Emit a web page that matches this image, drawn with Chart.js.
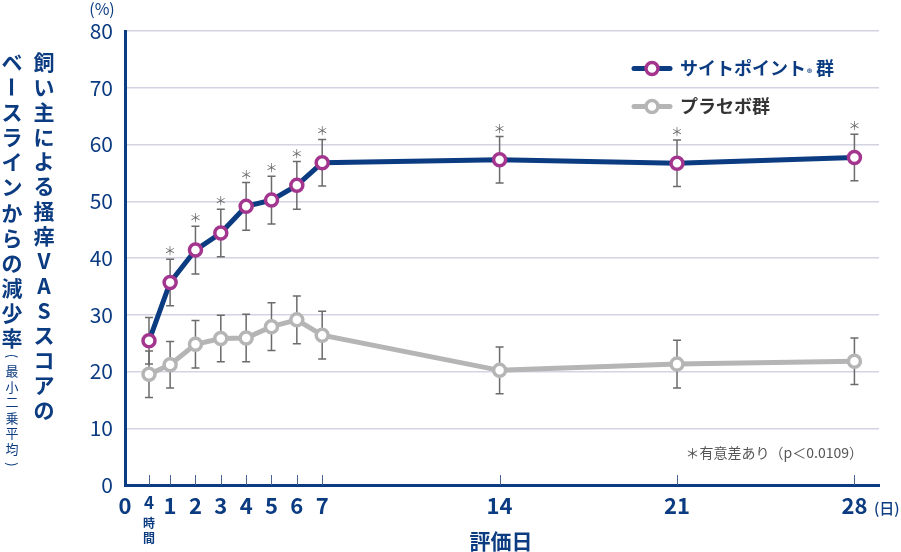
<!doctype html>
<html>
<head>
<meta charset="utf-8">
<title>掻痒VASスコア</title>
<script src="https://cdn.jsdelivr.net/npm/chart.js"></script>
<style>
  body { margin: 0; background: #fff; }
</style>
</head>
<body>
<canvas id="myChart" width="901" height="552"></canvas>

<script>
// evaluation day (4 hours = 4/24 day)
var days = [4 / 24, 1, 2, 3, 4, 5, 6, 7, 14, 21, 28];
var sitepoint = [25.4, 35.7, 41.4, 44.4, 49.1, 50.2, 52.8, 56.8, 57.3, 56.7, 57.7];
var sitepointErr = [4.1, 4.1, 4.2, 4.2, 4.2, 4.2, 4.2, 4.1, 4.1, 4.1, 4.1];
var placebo = [19.5, 21.2, 24.8, 25.8, 25.9, 27.9, 29.1, 26.4, 20.2, 21.3, 21.8];
var placeboErr = [4.1, 4.1, 4.2, 4.1, 4.2, 4.2, 4.2, 4.2, 4.1, 4.2, 4.1];
var significant = [false, true, true, true, true, true, true, true, true, true, true];
var xTickValues = [-0.78, 4 / 24, 1, 2, 3, 4, 5, 6, 7, 14, 21, 28];
var xTickLabels = ['0', '4', '1', '2', '3', '4', '5', '6', '7', '14', '21', '28'];
var seriesNames = ['サイトポイント', 'プラセボ群'];

var ink = '#0b3b80';
var magenta = '#a3358e';
var grey = '#b5b5b5';
var jp = "'Noto Sans CJK JP', 'Noto Sans', sans-serif";

function vText(ctx, text, x, y0, step, font, color) {
    var chars = Array.from(text);
    ctx.save();
    ctx.font = font;
    ctx.fillStyle = color;
    ctx.textAlign = 'center';
    ctx.textBaseline = 'middle';
    for (var i = 0; i < chars.length; i++) {
        var c = chars[i], y = y0 + i * step;
        if ('ー()'.indexOf(c) >= 0) {
            ctx.save();
            ctx.translate(x, y);
            ctx.rotate(Math.PI / 2);
            ctx.fillText(c, 0, 0);
            ctx.restore();
        } else {
            ctx.fillText(c, x, y);
        }
    }
    ctx.restore();
}

function legendMark(ctx, y, lineColor, ringColor) {
    ctx.save();
    ctx.strokeStyle = lineColor;
    ctx.lineWidth = 5;
    ctx.lineCap = 'round';
    ctx.beginPath();
    ctx.moveTo(634, y);
    ctx.lineTo(670, y);
    ctx.stroke();
    ctx.beginPath();
    ctx.arc(652, y, 6, 0, Math.PI * 2);
    ctx.fillStyle = '#fff';
    ctx.fill();
    ctx.lineWidth = 3.5;
    ctx.strokeStyle = ringColor;
    ctx.stroke();
    ctx.restore();
}

var extras = {
    id: 'extras',
    beforeDatasetsDraw: function(chart) {
        var ctx = chart.ctx, xs = chart.scales.x, ys = chart.scales.y;
        ctx.save();
        ctx.strokeStyle = '#6b6b6b';
        ctx.lineWidth = 1.5;
        [[sitepoint, sitepointErr], [placebo, placeboErr]].forEach(function(s) {
            for (var i = 0; i < days.length; i++) {
                var x = xs.getPixelForValue(days[i]);
                var yt = ys.getPixelForValue(s[0][i] + s[1][i]);
                var yb = ys.getPixelForValue(s[0][i] - s[1][i]);
                ctx.beginPath();
                ctx.moveTo(x, yt); ctx.lineTo(x, yb);
                ctx.moveTo(x - 4, yt); ctx.lineTo(x + 4, yt);
                ctx.moveTo(x - 4, yb); ctx.lineTo(x + 4, yb);
                ctx.stroke();
            }
        });
        ctx.restore();
    },
    afterDraw: function(chart) {
        var ctx = chart.ctx, xs = chart.scales.x, ys = chart.scales.y;
        var bottom = chart.chartArea.bottom;
        ctx.save();

        // x tick marks pointing inward
        ctx.strokeStyle = '#4a6594';
        ctx.lineWidth = 1;
        for (var i = 1; i < xTickValues.length; i++) {
            var px = Math.round(xs.getPixelForValue(xTickValues[i])) + 0.5;
            ctx.beginPath();
            ctx.moveTo(px, bottom - 10);
            ctx.lineTo(px, bottom);
            ctx.stroke();
        }

        // significance marks, glyph centred 8px above the error cap
        ctx.fillStyle = '#666';
        ctx.font = '12px ' + jp;
        ctx.textAlign = 'center';
        ctx.textBaseline = 'alphabetic';
        var m = ctx.measureText('＊');
        var mid = (m.actualBoundingBoxAscent - m.actualBoundingBoxDescent) / 2;
        for (var j = 0; j < days.length; j++) {
            if (!significant[j]) continue;
            ctx.fillText('＊', xs.getPixelForValue(days[j]), ys.getPixelForValue(sitepoint[j] + sitepointErr[j]) - 8 + mid);
        }
        ctx.textBaseline = 'middle';

        // 4時間 / (日) / (%)
        ctx.fillStyle = ink;
        ctx.font = 'bold 12px ' + jp;
        var x4 = xs.getPixelForValue(4 / 24);
        ctx.fillText('時', x4, 523);
        ctx.fillText('間', x4, 538);
        ctx.font = '500 15px ' + jp;
        ctx.textAlign = 'left';
        ctx.fillText('(日)', 874, 508);
        ctx.textAlign = 'center';
        ctx.font = '16px ' + jp;
        ctx.fillText('(%)', 102, 9);

        // x axis title
        ctx.font = 'bold 21px ' + jp;
        ctx.fillText('評価日', 501, 541);

        // y axis title (vertical)
        vText(ctx, '飼い主による掻痒VASスコアの', 44, 62, 24.86, 'bold 21px ' + jp, ink);
        vText(ctx, 'ベースラインからの減少率', 12, 62, 25.1, 'bold 21px ' + jp, ink);
        vText(ctx, '(最小二乗平均)', 12, 356, 15.5, '13px ' + jp, ink);

        // legend
        legendMark(ctx, 68.5, ink, magenta);
        legendMark(ctx, 106.5, grey, grey);
        ctx.textAlign = 'left';
        ctx.font = 'bold 18px ' + jp;
        ctx.fillStyle = ink;
        ctx.fillText(seriesNames[0], 680, 68.5);
        var w = ctx.measureText(seriesNames[0]).width;
        ctx.font = 'bold 10px ' + jp;
        ctx.fillText('®', 681 + w, 73);
        ctx.font = 'bold 18px ' + jp;
        ctx.fillText('群', 690 + w, 68.5);
        ctx.fillStyle = '#333';
        ctx.fillText(seriesNames[1], 680, 106.5);

        // footnote
        ctx.fillStyle = '#555';
        ctx.font = '14px ' + jp;
        ctx.textAlign = 'right';
        ctx.fillText('＊有意差あり（p＜0.0109）', 863, 453);

        ctx.restore();
    }
};

var ctx = document.getElementById('myChart').getContext('2d');
var chart = new Chart(ctx, {
    type: 'line',
    data: {
        datasets: [{
            label: 'サイトポイント®群',
            data: days.map(function(d, i) { return {x: d, y: sitepoint[i]}; }),
            borderColor: ink,
            borderWidth: 5,
            pointRadius: 6,
            pointBorderWidth: 3.5,
            pointBorderColor: magenta,
            pointBackgroundColor: '#fff',
            fill: false
        }, {
            label: 'プラセボ群',
            data: days.map(function(d, i) { return {x: d, y: placebo[i]}; }),
            borderColor: grey,
            borderWidth: 5,
            pointRadius: 6,
            pointBorderWidth: 3.5,
            pointBorderColor: grey,
            pointBackgroundColor: '#fff',
            fill: false
        }]
    },
    options: {
        responsive: false,
        devicePixelRatio: 1,
        animation: false,
        layout: { padding: { top: 31, right: 22, left: 0, bottom: 0 } },
        plugins: { legend: { display: false }, tooltip: { enabled: false } },
        scales: {
            x: {
                type: 'linear',
                min: xTickValues[0],
                max: 28.97,
                afterBuildTicks: function(scale) {
                    scale.ticks = xTickValues.map(function(v) { return {value: v}; });
                },
                afterFit: function(scale) { scale.height = 67; },
                grid: { display: false },
                border: { display: true, color: ink, width: 3 },
                ticks: {
                    autoSkip: false,
                    maxRotation: 0,
                    padding: -1,
                    color: ink,
                    font: function(c) {
                        return c.index === 1 ? {family: jp, size: 17, weight: 'bold', lineHeight: 1.2}
                                             : {family: jp, size: 22, weight: 'bold', lineHeight: 1.2};
                    },
                    callback: function(v, i) { return xTickLabels[i]; }
                }
            },
            y: {
                min: 0,
                max: 80,
                afterFit: function(scale) { scale.width = 125; },
                grid: { color: '#d3d3e4', lineWidth: 1.5, drawTicks: false },
                border: { display: true, color: ink, width: 3 },
                ticks: {
                    stepSize: 10,
                    padding: 12,
                    color: ink,
                    font: { family: jp, size: 21 }
                }
            }
        }
    },
    plugins: [extras]
});
</script>
</body>
</html>
